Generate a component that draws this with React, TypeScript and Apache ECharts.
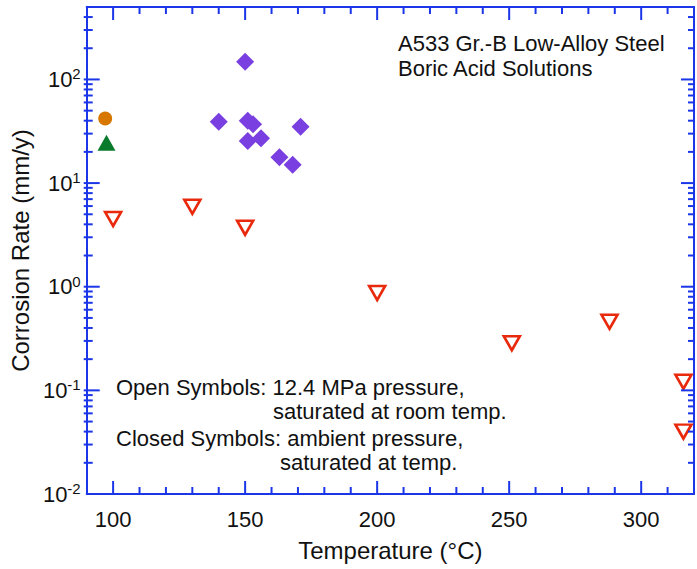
import React, { useEffect, useRef } from "react";
import * as echarts from "echarts";

// ---- Data ----
// Open symbols: 12.4 MPa pressure, saturated at room temperature
const openTemp = [100, 130, 150, 200, 251, 288, 316, 316];
const openRate = [4.5, 5.9, 3.7, 0.87, 0.285, 0.46, 0.121, 0.04];

// Closed symbols: ambient pressure, saturated at temperature
const diamondTemp = [150, 140, 151, 153, 151, 156, 163, 168, 171];
const diamondRate = [148, 39, 40, 37, 25.5, 27, 17.8, 15, 35];

const circleTemp = [97];
const circleRate = [42];

const triangleTemp = [97.5];
const triangleRate = [24.5];

// Axis settings and tick values
const xMin = 90;
const xMax = 320;
const yMin = 0.01;
const yMax = 500;
const xMinorTicks = [100, 110, 120, 130, 140, 150, 160, 170, 180, 190, 200, 210, 220, 230, 240, 250, 260, 270, 280, 290, 300, 310];
const xMajorTicks = [100, 150, 200, 250, 300];
const yDecades = [-2, -1, 0, 1, 2];
const yMinorMultipliers = [2, 3, 4, 5, 6, 7, 8, 9];

const FONT = "'Liberation Sans', Arial, Helvetica, sans-serif";
const BLUE = "#1a36e8";
const INK = "#111111";

export default function App() {
  const ref = useRef<HTMLDivElement>(null);

  useEffect(() => {
    if (!ref.current) return;
    const chart = echarts.init(ref.current, undefined, { renderer: "svg" });

    // tick data: [x, y, kind]; kind: 0 x minor, 1 x major, 2 y minor, 3 y major
    const tickData: number[][] = [];
    xMinorTicks.forEach((t) => {
      const major = xMajorTicks.indexOf(t) >= 0;
      tickData.push([t, yMin, major ? 1 : 0]);
    });
    yDecades.forEach((d) => {
      const base = Math.pow(10, d);
      if (base > yMin && base < yMax) tickData.push([xMin, base, 3]);
      yMinorMultipliers.forEach((m) => {
        const v = m * base;
        if (v < yMax) tickData.push([xMin, v, 2]);
      });
    });

    const tickSeries = {
      type: "custom",
      silent: true,
      clip: false,
      z: 10,
      data: tickData,
      encode: { x: 0, y: 1 },
      renderItem: (params: any, api: any) => {
        const x = api.value(0);
        const y = api.value(1);
        const kind = api.value(2);
        const style = { stroke: BLUE, lineWidth: 2 };
        const children: any[] = [];
        if (kind === 0 || kind === 1) {
          const len = kind === 1 ? 13 : 7;
          const b = api.coord([x, yMin]);
          const t = api.coord([x, yMax]);
          children.push({ type: "line", shape: { x1: b[0], y1: b[1], x2: b[0], y2: b[1] - len }, style });
          children.push({ type: "line", shape: { x1: t[0], y1: t[1], x2: t[0], y2: t[1] + len }, style });
        } else {
          const len = kind === 3 ? 13 : 6;
          const l = api.coord([xMin, y]);
          const r = api.coord([xMax, y]);
          children.push({ type: "line", shape: { x1: l[0] - 3, y1: l[1], x2: l[0] + len, y2: l[1] }, style });
          children.push({ type: "line", shape: { x1: r[0], y1: r[1], x2: r[0] - len, y2: r[1] }, style });
        }
        return { type: "group", children };
      },
    };

    const toPairs = (xs: number[], ys: number[]) => xs.map((x, i) => [x, ys[i]]);

    const option: any = {
      animation: false,
      backgroundColor: "#ffffff",
      textStyle: { fontFamily: FONT },
      grid: { left: 85, right: -4, top: 7, bottom: 75, containLabel: false },
      xAxis: [
        {
          type: "value",
          min: xMin,
          max: xMax,
          interval: 10,
          position: "bottom",
          name: "Temperature (°C)",
          nameLocation: "middle",
          nameGap: 44,
          nameTextStyle: { fontSize: 24, color: INK, fontFamily: FONT },
          axisLine: { show: true, lineStyle: { color: BLUE, width: 2 } },
          axisTick: { show: false },
          splitLine: { show: false },
          axisLabel: {
            margin: 14,
            fontSize: 22,
            color: INK,
            fontFamily: FONT,
            formatter: (v: number) => (xMajorTicks.indexOf(v) >= 0 ? String(v) : ""),
          },
        },
        {
          type: "value",
          min: xMin,
          max: xMax,
          position: "top",
          axisLine: { show: true, lineStyle: { color: BLUE, width: 2 } },
          axisTick: { show: false },
          axisLabel: { show: false },
          splitLine: { show: false },
        },
      ],
      yAxis: [
        {
          type: "log",
          logBase: 10,
          min: yMin,
          max: yMax,
          position: "left",
          name: "Corrosion Rate (mm/y)",
          nameLocation: "middle",
          nameGap: 51,
          nameTextStyle: { fontSize: 24, color: INK, fontFamily: FONT },
          axisLine: { show: true, lineStyle: { color: BLUE, width: 2 } },
          axisTick: { show: false },
          splitLine: { show: false },
          axisLabel: {
            margin: 6,
            color: INK,
            fontFamily: FONT,
            formatter: (v: number) => {
              const e = Math.log10(v);
              const r = Math.round(e);
              if (Math.abs(e - r) > 1e-6) return "";
              return "{b|10}{e|" + r + "}";
            },
            rich: {
              b: { fontSize: 22, fontFamily: FONT, color: INK },
              e: { fontSize: 15, fontFamily: FONT, color: INK, padding: [0, 0, 11, 0] },
            },
          },
        },
        {
          type: "log",
          logBase: 10,
          min: yMin,
          max: yMax,
          position: "right",
          axisLine: { show: true, lineStyle: { color: BLUE, width: 2 } },
          axisTick: { show: false },
          axisLabel: { show: false },
          splitLine: { show: false },
        },
      ],
      graphic: [
        {
          type: "text",
          left: 398,
          top: 31,
          style: {
            text: "A533 Gr.-B Low-Alloy Steel\nBoric Acid Solutions",
            fontSize: 22,
            lineHeight: 25,
            fontFamily: FONT,
            fill: INK,
          },
        },
        {
          type: "text",
          left: 116,
          top: 376,
          style: { text: "Open Symbols: 12.4 MPa pressure,", fontSize: 22, fontFamily: FONT, fill: INK },
        },
        {
          type: "text",
          left: 273,
          top: 400,
          style: { text: "saturated at room temp.", fontSize: 22, fontFamily: FONT, fill: INK },
        },
        {
          type: "text",
          left: 116,
          top: 427,
          style: { text: "Closed Symbols: ambient pressure,", fontSize: 22, fontFamily: FONT, fill: INK },
        },
        {
          type: "text",
          left: 280,
          top: 451,
          style: { text: "saturated at temp.", fontSize: 22, fontFamily: FONT, fill: INK },
        },
      ],
      series: [
        tickSeries,
        {
          name: "Open (12.4 MPa)",
          type: "scatter",
          clip: false,
          symbol: "triangle",
          symbolRotate: 180,
          symbolSize: [16, 14],
          itemStyle: { color: "#ffffff", borderColor: "#e8290c", borderWidth: 2.6, opacity: 1 },
          data: toPairs(openTemp, openRate),
          z: 5,
        },
        {
          name: "Closed diamonds",
          type: "scatter",
          clip: false,
          symbol: "diamond",
          symbolSize: 18,
          itemStyle: { color: "#7a3fe0", opacity: 1 },
          data: toPairs(diamondTemp, diamondRate),
          z: 5,
        },
        {
          name: "Closed circle",
          type: "scatter",
          clip: false,
          symbol: "circle",
          symbolSize: 14,
          itemStyle: { color: "#d77700", opacity: 1 },
          data: toPairs(circleTemp, circleRate),
          z: 5,
        },
        {
          name: "Closed triangle",
          type: "scatter",
          clip: false,
          symbol: "triangle",
          symbolSize: [18, 16],
          itemStyle: { color: "#0a7a2c", opacity: 1 },
          data: toPairs(triangleTemp, triangleRate),
          z: 5,
        },
      ],
    };

    chart.setOption(option);
    return () => chart.dispose();
  }, []);

  return (
    <div
      ref={ref}
      style={{ position: "absolute", left: 0, top: 0, width: 697, height: 569, background: "#fff" }}
    />
  );
}
